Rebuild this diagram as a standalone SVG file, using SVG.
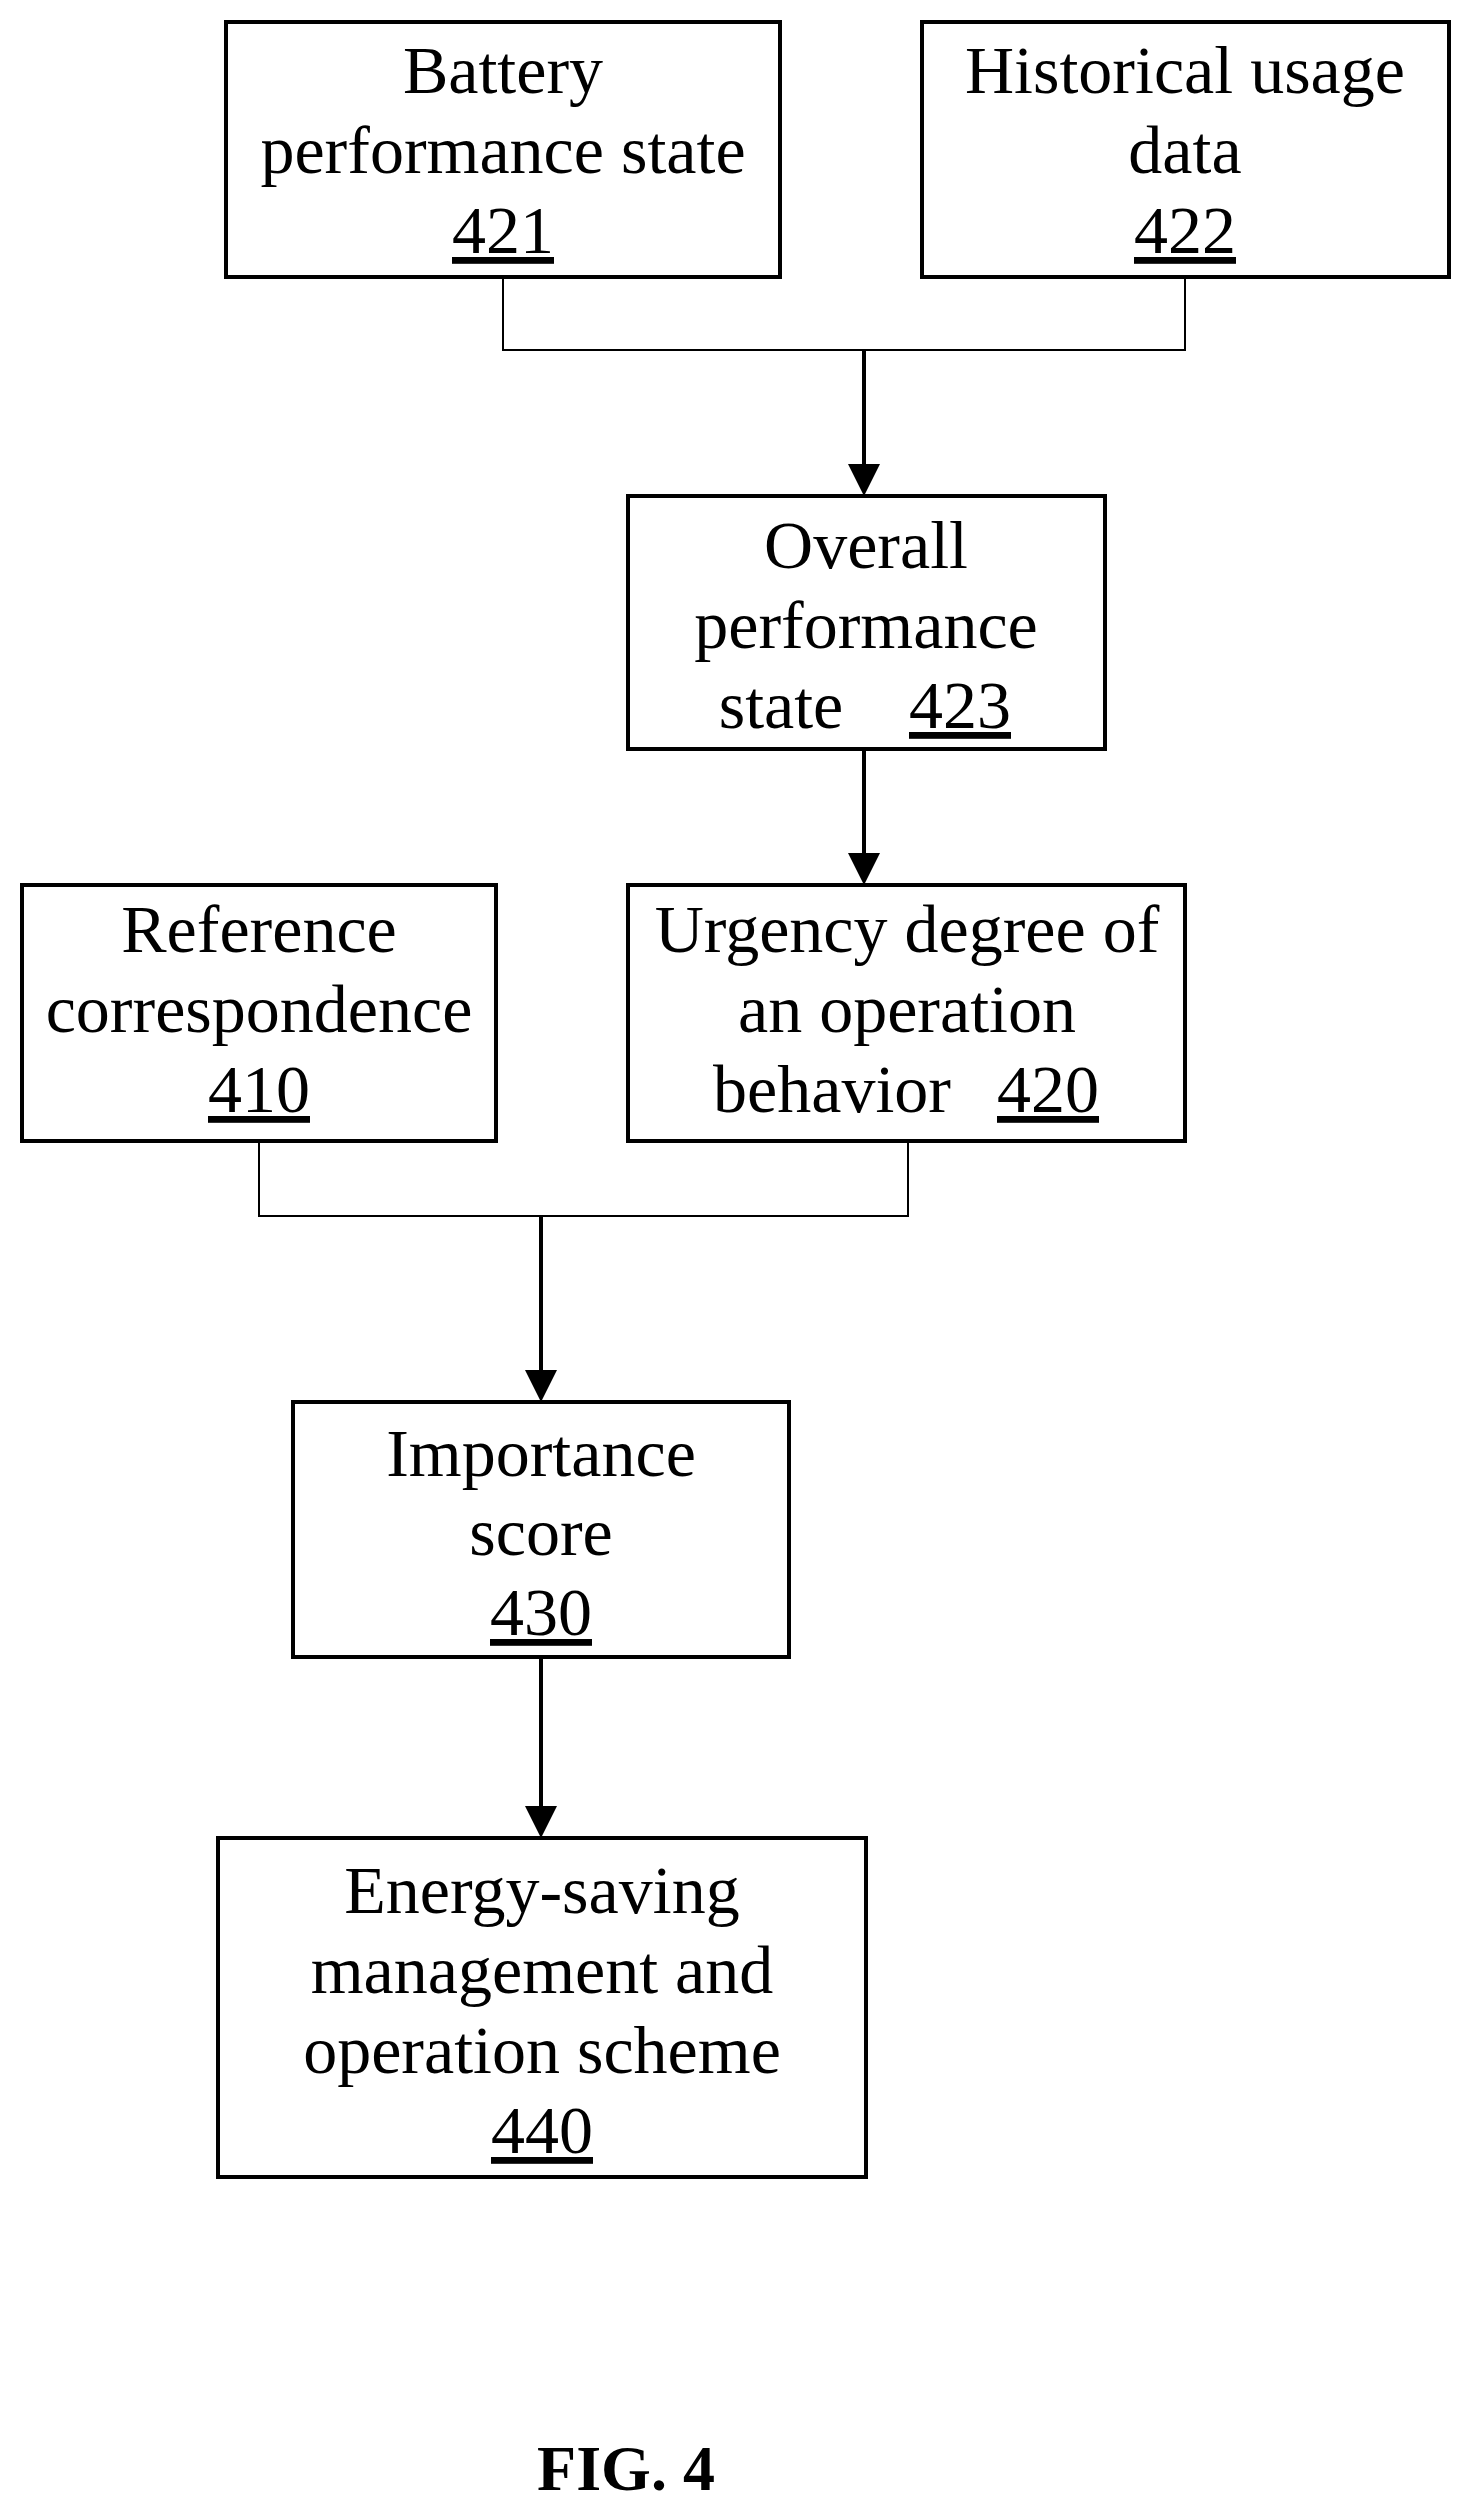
<svg xmlns="http://www.w3.org/2000/svg" width="1473" height="2515" viewBox="0 0 1473 2515">
<style>
.b{fill:#fff;stroke:#000;stroke-width:4}
.t{font-family:"Liberation Serif","Times New Roman",serif;font-size:68px;text-anchor:middle;fill:#000}
.u{text-decoration:underline}
.c{fill:none;stroke:#000;stroke-width:2}
.a{fill:none;stroke:#000;stroke-width:4;marker-end:url(#ah)}
</style>
<defs><marker id="ah" markerWidth="8" markerHeight="8" refX="7" refY="4" orient="auto" markerUnits="strokeWidth"><path d="M0,0 L8,4 L0,8 Z" fill="#000"/></marker></defs>
<rect width="1473" height="2515" fill="#fff"/>
<g id="n421"><rect class="b" x="226" y="22" width="554" height="255"/>
<text class="t" x="503" y="93">Battery</text><text class="t" x="503" y="173">performance state</text><text class="t u" x="503" y="253">421</text></g>
<g id="n422"><rect class="b" x="922" y="22" width="527" height="255"/>
<text class="t" x="1185" y="93">Historical usage</text><text class="t" x="1185" y="173">data</text><text class="t u" x="1185" y="253">422</text></g>
<g id="n423"><rect class="b" x="628" y="496" width="477" height="253"/>
<text class="t" x="866" y="568">Overall</text><text class="t" x="866" y="648">performance</text><text class="t" x="781" y="728">state</text><text class="t u" x="960" y="728">423</text></g>
<g id="n410"><rect class="b" x="22" y="885" width="474" height="256"/>
<text class="t" x="259" y="952">Reference</text><text class="t" x="259" y="1032">correspondence</text><text class="t u" x="259" y="1112">410</text></g>
<g id="n420"><rect class="b" x="628" y="885" width="557" height="256"/>
<text class="t" x="907" y="952">Urgency degree of</text><text class="t" x="907" y="1032">an operation</text><text class="t" x="832" y="1112">behavior</text><text class="t u" x="1048" y="1112">420</text></g>
<g id="n430"><rect class="b" x="293" y="1402" width="496" height="255"/>
<text class="t" x="541" y="1476">Importance</text><text class="t" x="541" y="1555">score</text><text class="t u" x="541" y="1635">430</text></g>
<g id="n440"><rect class="b" x="218" y="1838" width="648" height="339"/>
<text class="t" x="542" y="1913">Energy-saving</text><text class="t" x="542" y="1993">management and</text><text class="t" x="542" y="2073">operation scheme</text><text class="t u" x="542" y="2153">440</text></g>
<g id="connectors">
<path class="c" d="M503,277 V350 H1185 V277"/>
<path class="a" d="M864,350 V492"/>
<path class="a" d="M864,749 V881"/>
<path class="c" d="M259,1141 V1216 H908 V1141"/>
<path class="a" d="M541,1216 V1398"/>
<path class="a" d="M541,1657 V1834"/>
</g>
<text x="626" y="2490" style="font-family:'Liberation Serif',serif;font-size:64px;font-weight:bold;text-anchor:middle">FIG. 4</text>
</svg>
